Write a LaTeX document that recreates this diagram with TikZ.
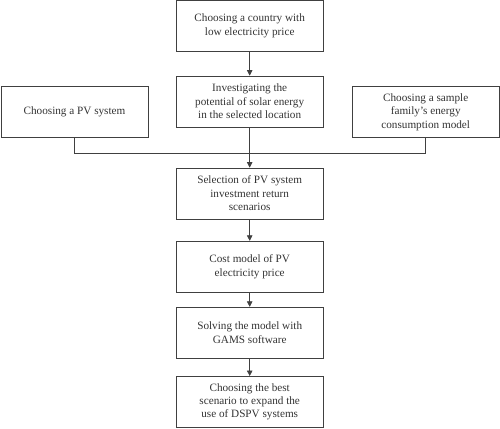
\documentclass[tikz,border=0pt]{standalone}
\usepackage{fontspec}
\setmainfont{Liberation Serif}
\usetikzlibrary{arrows.meta,calc}
\begin{document}
\begin{tikzpicture}[x=1pt,y=1pt,
  box/.style={draw=black!75, line width=0.7pt, minimum width=147pt, minimum height=51pt,
    inner sep=2pt, align=center, font=\fontsize{11.2pt}{13.4pt}\selectfont, text=black!80},
  conn/.style={draw=black!75, line width=0.7pt},
  arr/.style={conn, -{Triangle[length=5.5pt,width=5.5pt]}}]
\useasboundingbox (0,0) rectangle (500,-428);
\node[box] (b1) at (249.7,-25.8) {Choosing a country with\\low electricity price};
\node[box] (b2) at (249.7,-101.5) {Investigating the\\potential of solar energy\\in the selected location};
\node[box] (bl) at (74.5,-112.2) {Choosing a PV system};
\node[box] (br) at (425.7,-112.2) {Choosing a sample\\family's energy\\consumption model};
\node[box] (b3) at (249.7,-193.5) {Selection of PV system\\investment return\\scenarios};
\node[box] (b4) at (249.7,-266.7) {Cost model of PV\\electricity price};
\node[box] (b5) at (249.7,-332.7) {Solving the model with\\GAMS software};
\node[box] (b6) at (249.7,-401.9) {Choosing the best\\scenario to expand the\\use of DSPV systems};
\coordinate (busL) at ($(bl.south)+(0,-15.3)$);
\coordinate (busR) at ($(br.south)+(0,-15.3)$);
\draw[arr] (b1) -- (b2);
\draw[conn] (bl.south) -- (busL) -- (busR) -- (br.south);
\draw[arr] (b2) -- (b3);
\draw[arr] (b3) -- (b4);
\draw[arr] (b4) -- (b5);
\draw[arr] (b5) -- (b6);
\end{tikzpicture}
\end{document}
